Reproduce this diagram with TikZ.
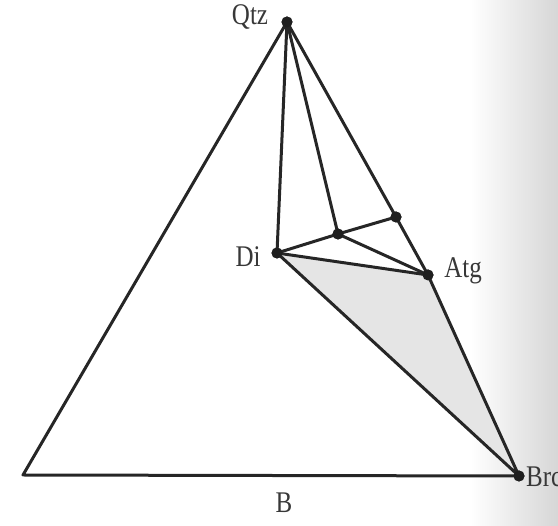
\documentclass[tikz,border=0pt]{standalone}
\usepackage{fontspec}
\setmainfont{Liberation Serif}
\newcommand{\tallt}[1]{\scalebox{1}[1.2]{#1}}
\begin{document}
\begin{tikzpicture}[x=1pt,y=-1pt,
  edge/.style={draw=black!85,line width=3pt,line cap=round,line join=round},
  pt/.style={circle,fill=black!88,inner sep=0pt,minimum size=11pt},
  lab/.style={font=\fontsize{25}{27}\selectfont,text=black!78,inner sep=0pt}]
\useasboundingbox (0,0) rectangle (558,526);
\clip (0,0) rectangle (558,526);
\shade[left color=white,right color=black!16] (470,0) rectangle (558,526);
\coordinate (L) at (23,475);
\node[pt] (Qtz) at (287,22) {};
\node[pt] (Di) at (277,253) {};
\node[pt] (M) at (338,234) {};
\node[pt] (P) at (396,217) {};
\node[pt] (Atg) at (428,275) {};
\node[pt] (Brc) at (519,476) {};
\fill[black!10] (Di.center) -- (Atg.center) -- (Brc.center) -- cycle;
\draw[edge] (Brc.center) -- (L) -- (Qtz.center) -- (P.center) -- (Atg.center) -- (Brc.center) -- (Di.center) -- (Qtz.center);
\draw[edge] (Qtz.center) -- (M.center);
\draw[edge] (Di.center) -- (M.center) -- (P.center);
\draw[edge] (M.center) -- (Atg.center);
\draw[edge] (Di.center) -- (Atg.center);
\node[pt] at (Qtz) {};
\node[pt] at (Di) {};
\node[pt] at (M) {};
\node[pt] at (P) {};
\node[pt] at (Atg) {};
\node[pt] at (Brc) {};
\node[lab] (tQ) at (250,17) {\tallt{Qtz}};
\node[lab] (tD) at (248,257) {\tallt{Di}};
\node[lab] (tA) at (463,271) {\tallt{Atg}};
\node[lab,anchor=west] (tB) at (526,477) {\tallt{Brc}};
\node[lab] (tBB) at (284,503) {\tallt{B}};
\end{tikzpicture}
\end{document}
